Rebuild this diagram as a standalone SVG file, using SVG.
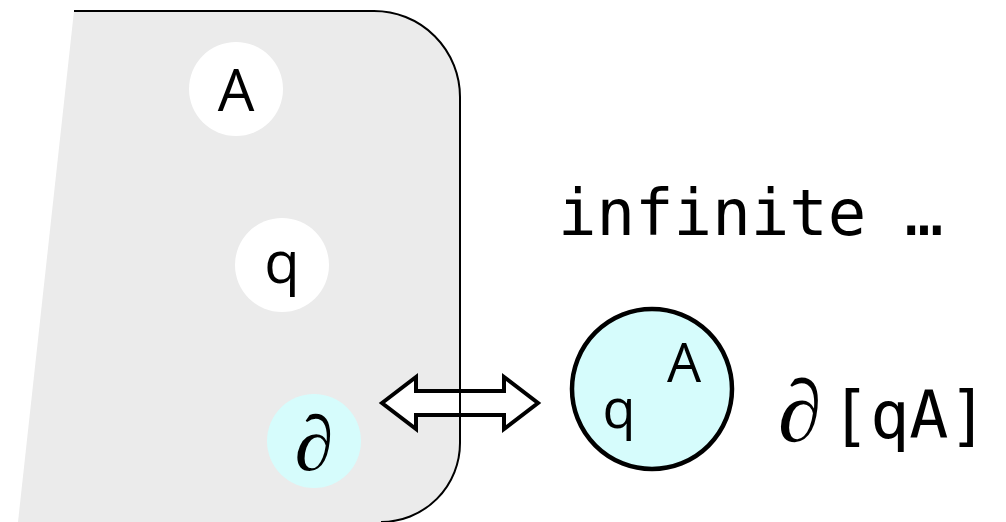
<svg xmlns="http://www.w3.org/2000/svg" width="1006" height="522" viewBox="0 0 1006 522">
<style>
.lbl{font-family:"Open Sans","Noto Sans",sans-serif;fill:#000}
.mono{font-family:"DejaVu Sans Mono","Liberation Mono",monospace;fill:#000}
.serif{font-family:"Liberation Serif","DejaVu Serif",serif;fill:#000}
.inner{fill:#ffffff}
.bd{fill:#d6fcfc}
</style>
<rect width="1006" height="522" fill="#ffffff"/>
<g id="region">
<path d="M74,11 L374,11 A86,86 0 0 1 460,97 L460,443 A79,79 0 0 1 381,522 L18,522 Z" fill="#ebebeb"/>
</g>
<g id="connectors">
<path d="M382,403 L416,377 L416,391 L504,391 L504,377 L538,403 L504,429 L504,415 L416,415 L416,429 Z" fill="#ffffff" stroke="#000" stroke-width="4" stroke-linejoin="miter"/>
</g>
<g id="region-border">
<path d="M74,11 L374,11 A86,86 0 0 1 460,97 L460,443 A79,79 0 0 1 381,522" fill="none" stroke="#000" stroke-width="2"/>
</g>
<g id="node-A">
<circle cx="236" cy="89" r="47" class="inner"/>
<text x="236" y="111" class="lbl" font-size="58" text-anchor="middle">A</text>
</g>
<g id="node-q">
<circle cx="282" cy="265" r="47" class="inner"/>
<text x="282" y="283" class="lbl" font-size="58" text-anchor="middle">q</text>
</g>
<g id="node-boundary">
<circle cx="314" cy="441" r="47" class="bd"/>
<text x="314" y="470" class="serif" font-size="78" text-anchor="middle">∂</text>
</g>
<g id="node-qA">
<circle cx="652" cy="389" r="80" class="bd" stroke="#000" stroke-width="4.5"/>
<text x="619" y="428" class="lbl" font-size="54" text-anchor="middle">q</text>
<text x="684" y="382" class="lbl" font-size="54" text-anchor="middle">A</text>
</g>
<g id="labels">
<text x="558" y="235" class="mono" font-size="64">infinite …</text>
<text x="778" y="441" class="serif" font-size="88">∂</text>
<text x="831" y="438" class="mono" font-size="65">[qA]</text>
</g>
</svg>
